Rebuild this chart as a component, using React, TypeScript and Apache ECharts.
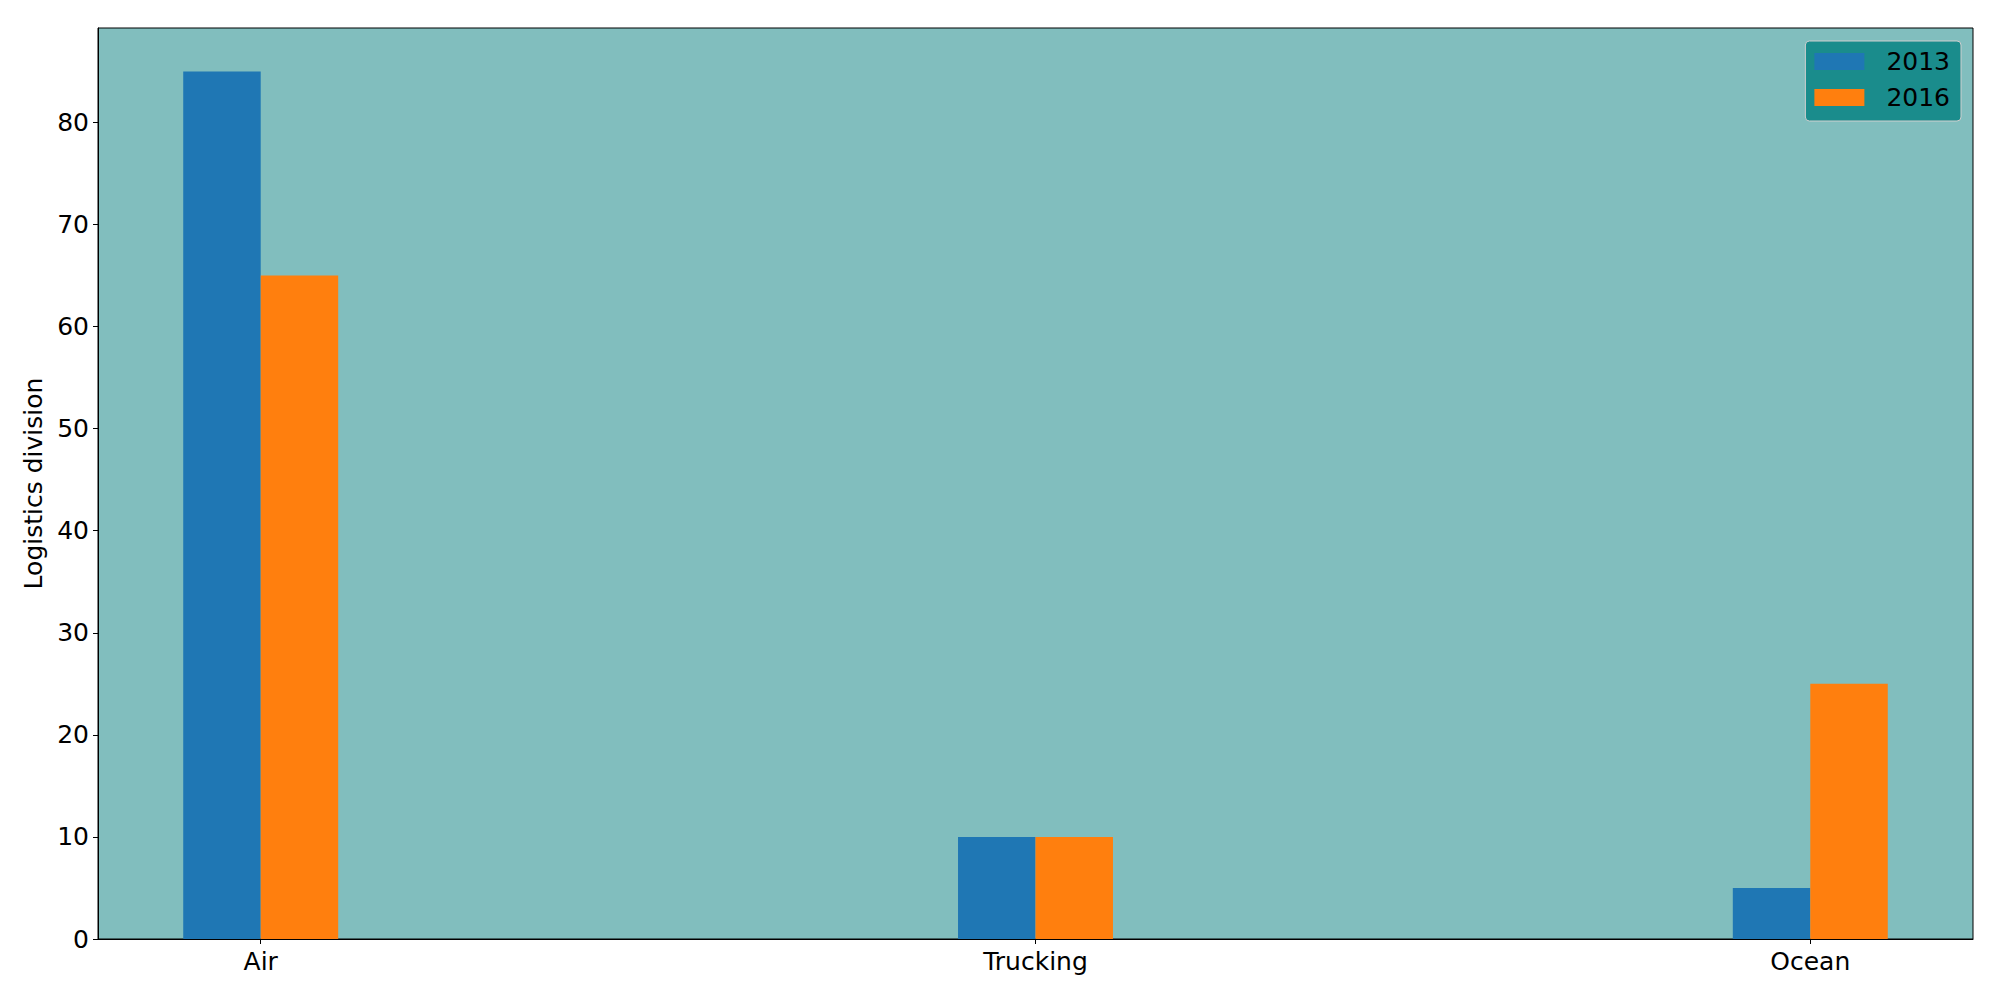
import React, { useEffect, useRef } from "react";
import * as echarts from "echarts";

const categories = ["Air", "Trucking", "Ocean"];
const values2013 = [85, 10, 5];
const values2016 = [65, 10, 25];
const seriesNames = ["2013", "2016"];
const yTicks = [0, 10, 20, 30, 40, 50, 60, 70, 80];

const BAR_W = 0.1;

export default function App() {
  const ref = useRef<HTMLDivElement>(null);
  useEffect(() => {
    if (!ref.current) return;
    const chart = echarts.init(ref.current, undefined, { renderer: "svg" });
    const font = "DejaVu Sans";
    const FS = 25;
    const mk = (name: string, vals: number[], color: string, offset: number) => ({
      type: "custom",
      name,
      itemStyle: { color },
      encode: { x: 0, y: 1 },
      data: vals.map((v, i) => [i, v]),
      renderItem: (params: any, api: any) => {
        const x = api.value(0);
        const v = api.value(1);
        const p0 = api.coord([x + offset, v]);
        const p1 = api.coord([x + offset + BAR_W, 0]);
        return {
          type: "rect",
          shape: { x: p0[0], y: p0[1], width: p1[0] - p0[0], height: p1[1] - p0[1] },
          style: { fill: color },
        };
      },
    });
    chart.setOption({
      animation: false,
      textStyle: { fontFamily: font },
      grid: {
        left: 98,
        right: 27,
        top: 28,
        bottom: 61,
        show: true,
        backgroundColor: "#81bebe",
        borderColor: "#000",
        borderWidth: 1,
      },
      legend: {
        orient: "vertical",
        right: 39,
        top: 41,
        icon: "rect",
        itemWidth: 50,
        itemHeight: 17,
        itemGap: 11,
        padding: [8, 11, 11, 9],
        backgroundColor: "#1a8c8c",
        borderColor: "#cfcfcf",
        borderWidth: 1,
        borderRadius: 4,
        textStyle: { fontSize: FS, color: "#000", fontFamily: font, padding: [0, 0, 0, 17] },
        data: seriesNames,
      },
      xAxis: {
        type: "value",
        min: -0.21,
        max: 2.21,
        splitLine: { show: false },
        axisLine: { show: true, onZero: false, lineStyle: { color: "#000", width: 1 } },
        axisTick: { show: true, length: 5, customValues: [0, 1, 2], lineStyle: { color: "#000" } },
        axisLabel: {
          customValues: [0, 1, 2],
          formatter: (v: number) => categories[Math.round(v)],
          fontSize: FS,
          color: "#000",
          margin: 10,
          fontFamily: font,
        },
      },
      yAxis: {
        type: "value",
        min: 0,
        max: 89.25,
        interval: 10,
        name: "Logistics division",
        nameLocation: "middle",
        nameGap: 50,
        nameTextStyle: { fontSize: FS, color: "#000", fontFamily: font },
        splitLine: { show: false },
        axisLine: { show: true, onZero: false, lineStyle: { color: "#000", width: 1 } },
        axisTick: { show: true, length: 5, customValues: yTicks, lineStyle: { color: "#000" } },
        axisLabel: {
          customValues: yTicks,
          fontSize: FS,
          color: "#000",
          margin: 9,
          fontFamily: font,
        },
      },
      series: [
        mk(seriesNames[0], values2013, "#1f77b4", -BAR_W),
        mk(seriesNames[1], values2016, "#ff7f0e", 0),
      ],
    });
    return () => chart.dispose();
  }, []);
  return (
    <div
      ref={ref}
      style={{ position: "fixed", left: 0, top: 0, width: 2000, height: 1000, background: "#fff" }}
    />
  );
}
